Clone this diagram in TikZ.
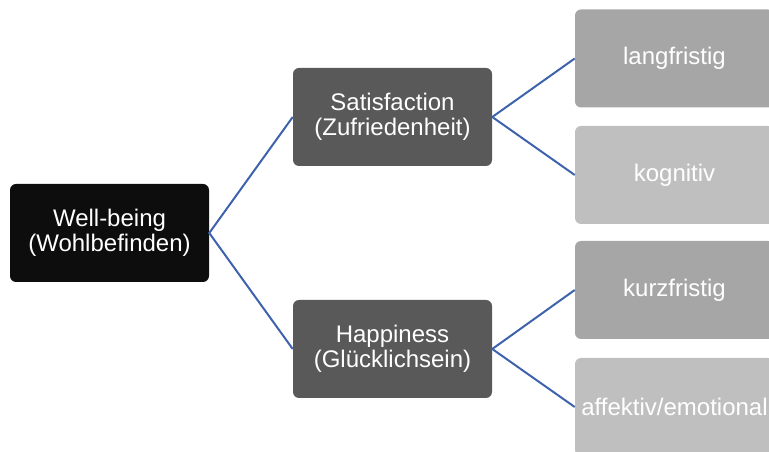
\documentclass[tikz,border=0pt]{standalone}
\usepackage{fontspec}
\setmainfont{Liberation Sans}
\definecolor{cblack}{HTML}{0D0D0D}
\definecolor{cdark}{HTML}{595959}
\definecolor{cmid}{HTML}{A6A6A6}
\definecolor{clight}{HTML}{BFBFBF}
\definecolor{cline}{RGB}{62,98,172}
\begin{document}
\begin{tikzpicture}[x=0.75pt,y=-0.75pt,
  box/.style={rounded corners=4.5pt, minimum width=149.25pt, minimum height=73.5pt,
    inner sep=0pt, text=white, align=center,
    font=\fontsize{18}{18.5}\selectfont},
  conn/.style={draw=cline, line width=1.5pt}]
\clip (0,0) rectangle (769,452);
\useasboundingbox (0,0) rectangle (769,452);
\node[box, fill=cblack] (wb) at (109.5,233) {Well-being\\(Wohlbefinden)};
\node[box, fill=cdark] (sat) at (392.5,117) {Satisfaction\\(Zufriedenheit)};
\node[box, fill=cdark] (hap) at (392.5,349) {Happiness\\(Glücklichsein)};
\node[box, fill=cmid] (lang) at (674.5,58.5) {langfristig};
\node[box, fill=clight] (kog) at (674.5,175) {kognitiv};
\node[box, fill=cmid] (kurz) at (674.5,290) {kurzfristig};
\node[box, fill=clight] (aff) at (674.5,407) {affektiv/emotional};
\draw[conn] (sat.west) -- (wb.east) -- (hap.west);
\draw[conn] (lang.west) -- (sat.east) -- (kog.west);
\draw[conn] (kurz.west) -- (hap.east) -- (aff.west);
\end{tikzpicture}
\end{document}
